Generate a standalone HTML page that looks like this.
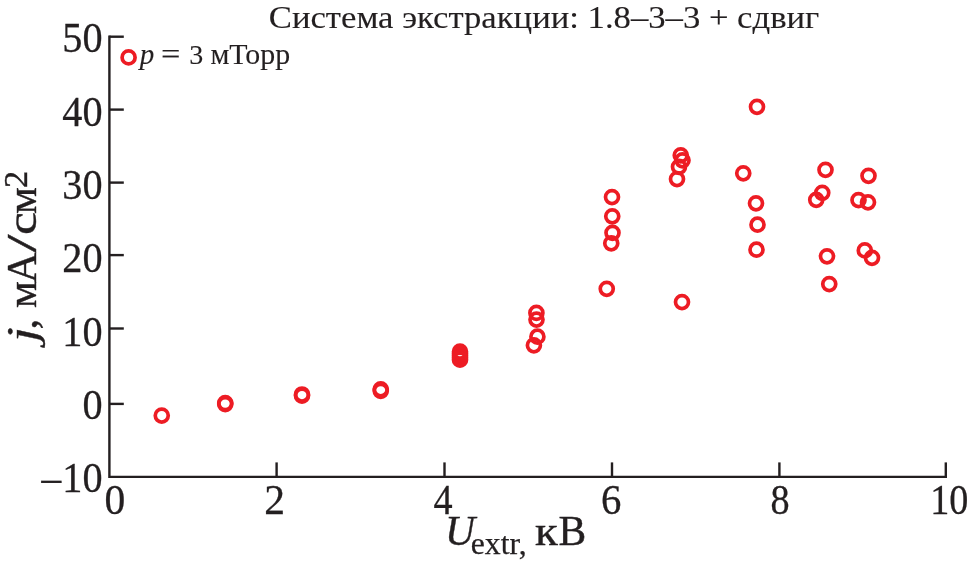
<!DOCTYPE html>
<html lang="ru"><head><meta charset="utf-8"><title>Система экстракции</title>
<style>
html,body{margin:0;padding:0;background:#fff;}
body{width:968px;height:568px;overflow:hidden;}
svg{display:block;font-family:"Liberation Serif","DejaVu Serif",serif;fill:#231f20;}
text{stroke:#231f20;stroke-width:0.4px;}
.lg text{stroke-width:0.12px;}
.ax line,.ax path{stroke:#231f20;stroke-width:2.4;fill:none;}
.pt circle{fill:none;stroke:#ed1c24;stroke-width:3.7;}
.tk{font-size:42.4px;}
.tk text{stroke-width:0.3px;}
i{font-style:italic;}
</style></head><body>
<svg width="968" height="568" viewBox="0 0 968 568">
<rect width="968" height="568" fill="#fff"/>
<text x="268.8" y="28.4" font-size="32px" style="stroke-width:0.12px" textLength="550.5" lengthAdjust="spacingAndGlyphs">Система экстракции: 1.8–3–3 + сдвиг</text>
<g class="ax">
<path d="M109.4 35.5V476.9H947"/>
<line x1="109.4" y1="36.7" x2="123.8" y2="36.7"/>
<line x1="109.4" y1="109.6" x2="123.8" y2="109.6"/>
<line x1="109.4" y1="182.6" x2="123.8" y2="182.6"/>
<line x1="109.4" y1="255.1" x2="123.8" y2="255.1"/>
<line x1="109.4" y1="328.5" x2="123.8" y2="328.5"/>
<line x1="109.4" y1="403.9" x2="123.8" y2="403.9"/>
<line x1="276.6" y1="462.4" x2="276.6" y2="476.9"/>
<line x1="444.5" y1="462.4" x2="444.5" y2="476.9"/>
<line x1="612" y1="462.4" x2="612" y2="476.9"/>
<line x1="779.4" y1="462.4" x2="779.4" y2="476.9"/>
<line x1="945.8" y1="462.4" x2="945.8" y2="476.9"/>
</g>
<g class="tk">
<text transform="translate(102.6,52.4) scale(0.95,1)" text-anchor="end">50</text>
<text transform="translate(102.6,125.7) scale(0.95,1)" text-anchor="end">40</text>
<text transform="translate(102.6,199.1) scale(0.95,1)" text-anchor="end">30</text>
<text transform="translate(102.6,272.4) scale(0.95,1)" text-anchor="end">20</text>
<text transform="translate(102.6,345.7) scale(0.95,1)" text-anchor="end">10</text>
<text transform="translate(102.6,419.0) scale(0.95,1)" text-anchor="end">0</text>
<text transform="translate(102.6,492.4) scale(0.95,1)" text-anchor="end">10</text>
<text transform="translate(38.9,495.5) scale(1.03,1)">−</text>
<text transform="translate(115,514) scale(0.98,1)" text-anchor="middle">0</text>
<text transform="translate(274.6,514) scale(0.98,1)" text-anchor="middle">2</text>
<text transform="translate(443,514) scale(0.9,1)" text-anchor="middle">4</text>
<text transform="translate(611.3,514) scale(0.96,1)" text-anchor="middle">6</text>
<text transform="translate(780.1,514) scale(0.9,1)" text-anchor="middle">8</text>
<text transform="translate(949.3,514) scale(0.9,1)" text-anchor="middle">10</text>
</g>
<g transform="translate(35.6,0) rotate(-90)" font-size="42.5px">
<text x="-341.9" y="0" font-style="italic" textLength="14.8" lengthAdjust="spacingAndGlyphs">j</text><text x="-329.6" y="0">,</text><text x="-308" y="0">м</text><text x="-283" y="0">А</text><text x="-252.6" y="0" textLength="18" lengthAdjust="spacingAndGlyphs">/</text><text x="-235.1" y="0" textLength="23" lengthAdjust="spacingAndGlyphs">с</text><text x="-214" y="0">м</text><text x="-188" y="-8.8" font-size="34.5px">2</text>
</g>
<g font-size="41.5px">
<text x="445" y="545.4" font-style="italic">U</text><text x="470.7" y="554.3" font-size="30.5px" textLength="56" lengthAdjust="spacingAndGlyphs" style="stroke-width:0.25px">extr,</text><text x="535" y="545.4" textLength="22.8" lengthAdjust="spacingAndGlyphs">к</text><text x="558.6" y="545.4">В</text>
</g>
<g font-size="29px" style="stroke-width:0.12px" class="lg">
<text x="139.8" y="64" font-style="italic">p</text><text x="161" y="64" textLength="19.4" lengthAdjust="spacingAndGlyphs">=</text><text x="189.3" y="64" font-size="28px">3</text><text x="210.4" y="64" textLength="79.8" lengthAdjust="spacingAndGlyphs">мТорр</text>
</g>
<g class="pt">
<circle cx="612" cy="197.05" r="6.5"/>
<circle cx="612.25" cy="216.30" r="6.5"/>
<circle cx="612.5" cy="232.80" r="6.5"/>
<circle cx="611.25" cy="243.30" r="6.5"/>
<circle cx="680.75" cy="155.30" r="6.5"/>
<circle cx="682.5" cy="160.30" r="6.5"/>
<circle cx="679" cy="166.80" r="6.5"/>
<circle cx="677" cy="179.05" r="6.5"/>
<circle cx="743.25" cy="173.30" r="6.5"/>
<circle cx="756" cy="203.30" r="6.5"/>
<circle cx="757.5" cy="224.70" r="6.5"/>
<circle cx="756.5" cy="249.70" r="6.5"/>
<circle cx="757" cy="106.80" r="6.5"/>
<circle cx="825.5" cy="169.80" r="6.5"/>
<circle cx="822.25" cy="192.80" r="6.5"/>
<circle cx="816.25" cy="199.80" r="6.5"/>
<circle cx="868.5" cy="175.80" r="6.5"/>
<circle cx="858.5" cy="200.05" r="6.5"/>
<circle cx="868" cy="202.30" r="6.5"/>
<circle cx="827" cy="256.30" r="6.5"/>
<circle cx="864.8" cy="250.40" r="6.5"/>
<circle cx="872" cy="257.80" r="6.5"/>
<circle cx="829.25" cy="284.05" r="6.5"/>
<circle cx="536.4" cy="312.90" r="6.5"/>
<circle cx="536.5" cy="319.55" r="6.5"/>
<circle cx="537.4" cy="336.70" r="6.5"/>
<circle cx="533.9" cy="345.30" r="6.5"/>
<circle cx="606.75" cy="288.80" r="6.5"/>
<circle cx="682" cy="302.05" r="6.5"/>
<circle cx="161.75" cy="415.55" r="6.5"/>
<circle cx="225.25" cy="403.10" r="6.5"/>
<circle cx="225.25" cy="404.10" r="6.5"/>
<circle cx="302" cy="394.50" r="6.5"/>
<circle cx="302" cy="395.60" r="6.5"/>
<circle cx="380.75" cy="389.30" r="6.5"/>
<circle cx="380.75" cy="390.80" r="6.5"/>
<circle cx="460" cy="351.70" r="6.5"/>
<circle cx="460" cy="353.70" r="6.5"/>
<circle cx="460" cy="355.70" r="6.5"/>
<circle cx="460" cy="357.70" r="6.5"/>
<circle cx="460" cy="359.70" r="6.5"/>
<circle cx="128.6" cy="57.40" r="6.5"/>
</g>
</svg>
</body></html>
